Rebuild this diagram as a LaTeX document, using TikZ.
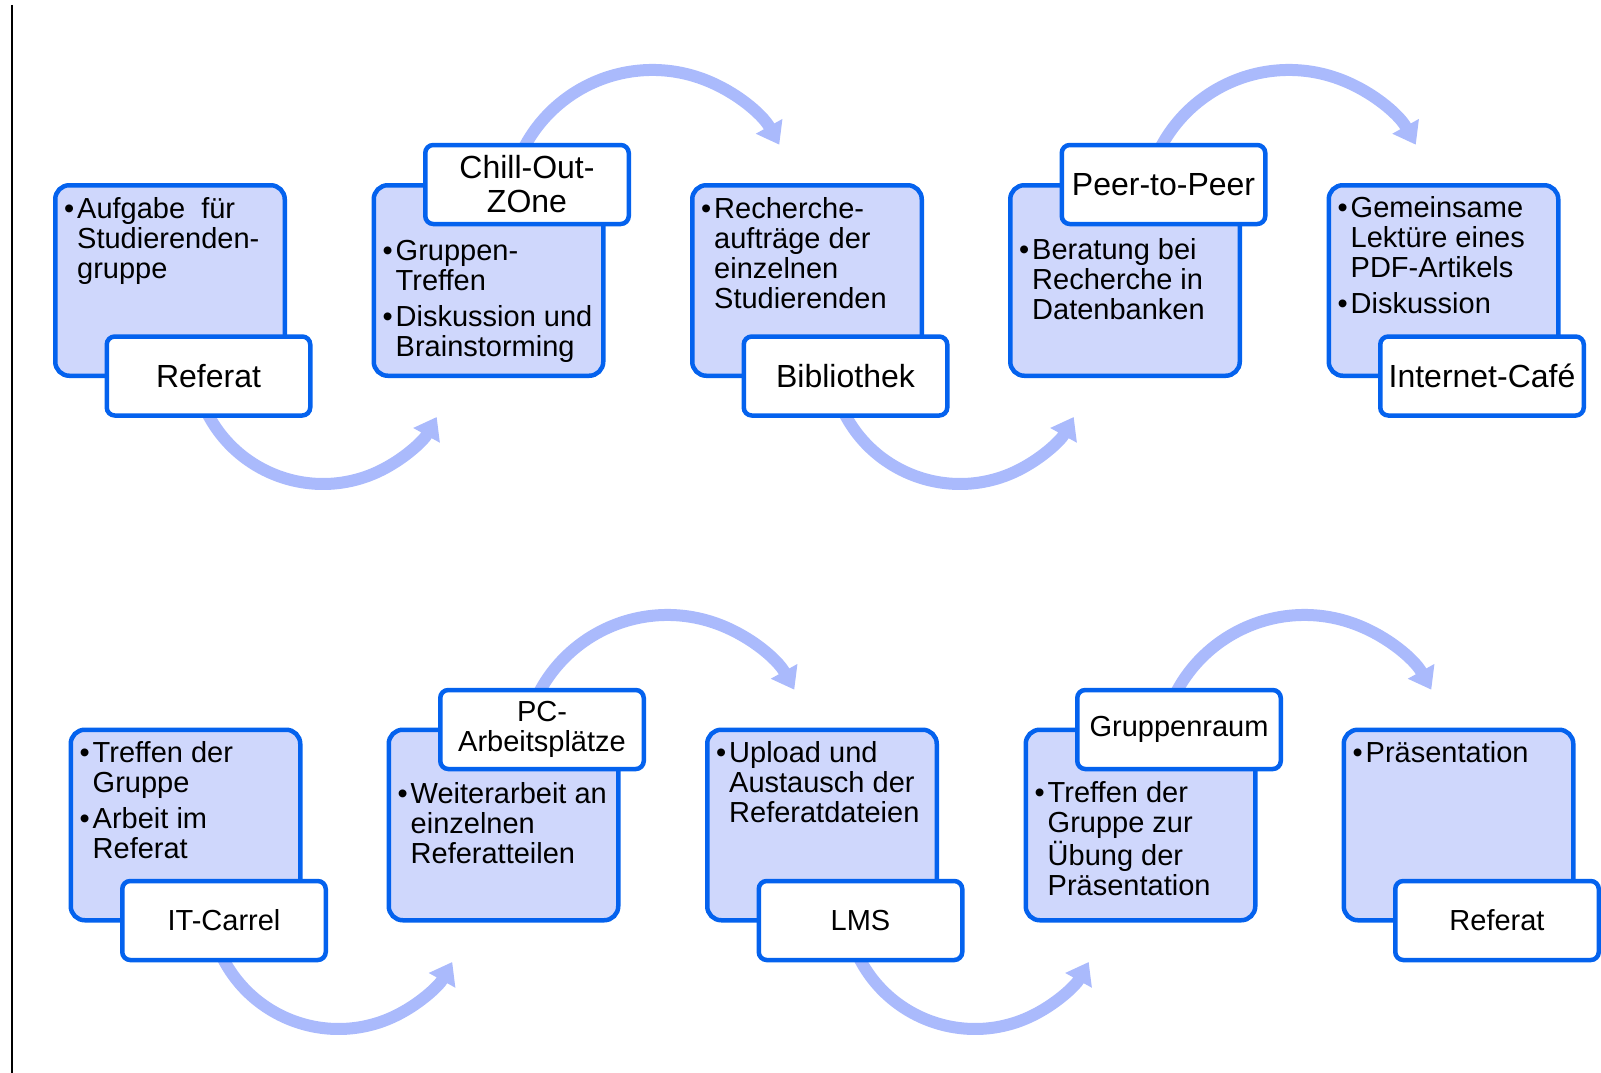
\documentclass[tikz,border=0pt]{standalone}
\usepackage{fontspec}
\setmainfont{Liberation Sans}
\usetikzlibrary{arrows.meta}
\definecolor{bord}{RGB}{4,98,238}
\definecolor{lav}{RGB}{207,215,252}
\definecolor{arr}{RGB}{170,186,252}
\newcommand\blt{\makebox[13pt][l]{•}}
\newcommand\indt{\hspace*{13pt}}
\begin{document}
\begin{tikzpicture}[x=1pt,y=-1pt,
  card/.style={draw=bord, line width=4.5pt, fill=lav, rounded corners=14pt, minimum width=229.5pt, minimum height=190.5pt, inner sep=0pt},
  tag/.style={draw=bord, line width=4.5pt, fill=white, rounded corners=8pt, minimum width=203.5pt, minimum height=79pt, inner sep=0pt, align=center},
  bigtag/.style={tag, font=\fontsize{32}{34}\selectfont},
  smalltag/.style={tag, font=\fontsize{29}{30}\selectfont},
  body/.style={anchor=base west, inner sep=0pt, font=\fontsize{29}{30}\selectfont},
  flow/.style={draw=arr, line width=12pt, -{Triangle[width=29pt,length=21pt]}},
]
\useasboundingbox (0,0) rectangle (1601,1073);
\draw[line width=2.2pt] (12,5) -- (12,1073);

% arc start points (hidden behind the labels)
\coordinate (l1s) at (205.2,408.9);
\coordinate (l2s) at (842.2,408.9);
\coordinate (u1s) at (516.2,165.4);
\coordinate (u2s) at (1152.7,165.4);
\coordinate (bl1s) at (220.7,953.9);
\coordinate (bl2s) at (857.2,953.9);
\coordinate (bu1s) at (531.2,710.4);
\coordinate (bu2s) at (1168.2,710.4);

\draw[flow] (l1s) arc[start angle=155, end angle=29, radius=130];
\draw[flow] (l2s) arc[start angle=155, end angle=29, radius=130];
\draw[flow] (u1s) arc[start angle=200, end angle=331, radius=145];
\draw[flow] (u2s) arc[start angle=200, end angle=331, radius=145];
\draw[flow] (bl1s) arc[start angle=155, end angle=29, radius=130];
\draw[flow] (bl2s) arc[start angle=155, end angle=29, radius=130];
\draw[flow] (bu1s) arc[start angle=200, end angle=331, radius=145];
\draw[flow] (bu2s) arc[start angle=200, end angle=331, radius=145];

% top row cards
\node[card] (c1) at (170,280.5) {};
\node[card] (c2) at (488.5,280.5) {};
\node[card] (c3) at (807,280.5) {};
\node[card] (c4) at (1125,280.5) {};
\node[card] (c5) at (1443.5,280.5) {};
% bottom row cards
\node[card] (d1) at (185.5,825) {};
\node[card] (d2) at (503.5,825) {};
\node[card] (d3) at (822,825) {};
\node[card] (d4) at (1140.5,825) {};
\node[card] (d5) at (1458.5,825) {};

% top row body texts
\node[body] (t1) at (64,218) {\begin{tabular}[t]{@{}l@{}}\blt Aufgabe\ \ für\\ \indt Studierenden-\\ \indt gruppe\end{tabular}};
\node[body] (t2) at (382.5,260) {\begin{tabular}[t]{@{}l@{}}\blt Gruppen-\\ \indt Treffen\\[6pt] \blt Diskussion und\\ \indt Brainstorming\end{tabular}};
\node[body] (t3) at (701,218) {\begin{tabular}[t]{@{}l@{}}\blt Recherche-\\ \indt aufträge der\\ \indt einzelnen\\ \indt Studierenden\end{tabular}};
\node[body] (t4) at (1019,259) {\begin{tabular}[t]{@{}l@{}}\blt Beratung bei\\ \indt Recherche in\\ \indt Datenbanken\end{tabular}};
\node[body] (t5) at (1337.5,217) {\begin{tabular}[t]{@{}l@{}}\blt Gemeinsame\\ \indt Lektüre eines\\ \indt PDF-Artikels\\[6pt] \blt Diskussion\end{tabular}};
% bottom row body texts
\node[body] (s1) at (79.5,762) {\begin{tabular}[t]{@{}l@{}}\blt Treffen der\\ \indt Gruppe\\[6pt] \blt Arbeit im\\ \indt Referat\end{tabular}};
\node[body] (s2) at (397.5,803) {\begin{tabular}[t]{@{}l@{}}\blt Weiterarbeit an\\ \indt einzelnen\\ \indt Referatteilen\end{tabular}};
\node[body] (s3) at (716,762) {\begin{tabular}[t]{@{}l@{}}\blt Upload und\\ \indt Austausch der\\ \indt Referatdateien\end{tabular}};
\node[body] (s4) at (1034.5,802) {\begin{tabular}[t]{@{}l@{}}\blt Treffen der\\ \indt Gruppe zur\\ \indt Übung der\\ \indt Präsentation\end{tabular}};
\node[body] (s5) at (1352.5,762) {\begin{tabular}[t]{@{}l@{}}\blt Präsentation\end{tabular}};

% top row labels
\node[bigtag] (g1) at (208.5,376) {Referat};
\node[bigtag] (g2) at (527,184.5) {Chill-Out-\\ZOne};
\node[bigtag] (g3) at (845.5,376) {Bibliothek};
\node[bigtag] (g4) at (1163.5,184.5) {Peer-to-Peer};
\node[bigtag] (g5) at (1482,376) {Internet-Café};
% bottom row labels
\node[smalltag] (h1) at (224,920.5) {IT-Carrel};
\node[smalltag] (h2) at (542,729.5) {PC-\\Arbeitsplätze};
\node[smalltag] (h3) at (860.5,920.5) {LMS};
\node[smalltag] (h4) at (1179,729.5) {Gruppenraum};
\node[smalltag] (h5) at (1497,920.5) {Referat};
\end{tikzpicture}
\end{document}
